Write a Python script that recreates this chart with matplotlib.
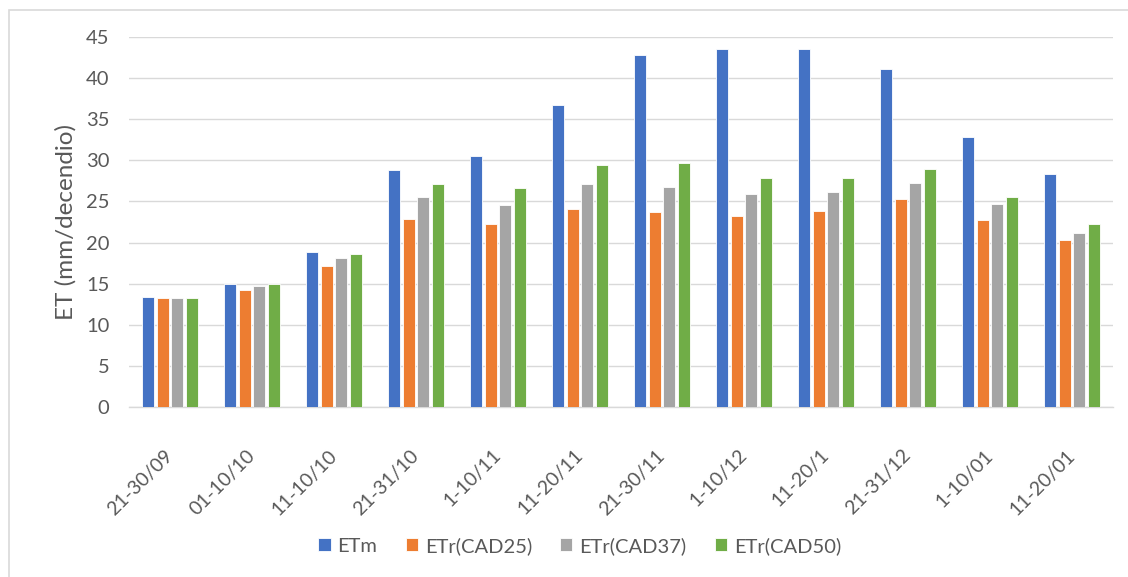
import matplotlib
matplotlib.use("Agg")
import matplotlib.pyplot as plt
import numpy as np
from matplotlib.patches import Rectangle

categories = ["21-30/09", "01-10/10", "11-10/10", "21-31/10", "1-10/11", "11-20/11",
              "21-30/11", "1-10/12", "11-20/1", "21-31/12", "1-10/01", "11-20/01"]
etm = [13.4, 14.9, 18.8, 28.8, 30.5, 36.8, 42.9, 43.6, 43.6, 41.1, 32.9, 28.3]
etr_cad25 = [13.2, 14.2, 17.1, 22.9, 22.2, 24.1, 23.7, 23.2, 23.9, 25.3, 22.7, 20.3]
etr_cad37 = [13.2, 14.7, 18.1, 25.6, 24.6, 27.1, 26.8, 25.9, 26.1, 27.3, 24.7, 21.2]
etr_cad50 = [13.2, 14.9, 18.6, 27.1, 26.6, 29.5, 29.7, 27.8, 27.8, 29.0, 25.6, 22.2]

series_names = ["ETm", "ETr(CAD25)", "ETr(CAD37)", "ETr(CAD50)"]
series = [etm, etr_cad25, etr_cad37, etr_cad50]
colors = ["#4472C4", "#ED7D31", "#A5A5A5", "#70AD47"]

plt.rcParams['font.family'] = ['Lato', 'DejaVu Sans']
txt = "#595959"

fig = plt.figure(figsize=(11.28, 5.77), dpi=100)
ax = fig.add_axes([129/1128, 1-406.7/577, (1113-129)/1128, (406.7-37.3)/577])

# chart frame
fig.patches.append(Rectangle((9/1128, -0.1), 1.2, 1-10/577+0.1, transform=fig.transFigure,
                             fill=False, edgecolor="#d9d9d9", linewidth=1.2))

x = np.arange(len(categories))
w = 0.146
step = 0.177
for i, (vals, name, c) in enumerate(zip(series, series_names, colors)):
    ax.bar(x + (i - 1.5) * step, vals, width=w, color=c, label=name,
           edgecolor="white", linewidth=0.6, zorder=3)

ax.set_xlim(-0.5, len(categories) - 0.5)
ax.set_ylim(0, 45)
ax.set_yticks(np.arange(0, 46, 5))
ax.grid(axis='y', color="#d9d9d9", linewidth=1.0, zorder=0)
for s in ["top", "right", "left"]:
    ax.spines[s].set_visible(False)
ax.spines["bottom"].set_color("#d9d9d9")
ax.spines["bottom"].set_linewidth(1.0)
ax.tick_params(axis='both', length=0, labelcolor=txt)
ax.tick_params(axis='y', pad=14, labelsize=14.5)
ax.set_xticks(x)
ax.set_xticklabels(categories, rotation=45, ha='right', va='center',
                   rotation_mode='anchor', fontsize=14)
ax.tick_params(axis='x', pad=33)
ax.set_ylabel("ET (mm/decendio)", fontsize=17.5, color=txt, labelpad=7)

leg = fig.legend(loc='center', bbox_to_anchor=(0.514, 1-546/577), ncol=4, frameon=False,
                 fontsize=14.5, handlelength=0.6, handleheight=0.6, handletextpad=0.35,
                 columnspacing=1.4)
for t in leg.get_texts():
    t.set_color(txt)

fig.savefig("out.png", dpi=100)
